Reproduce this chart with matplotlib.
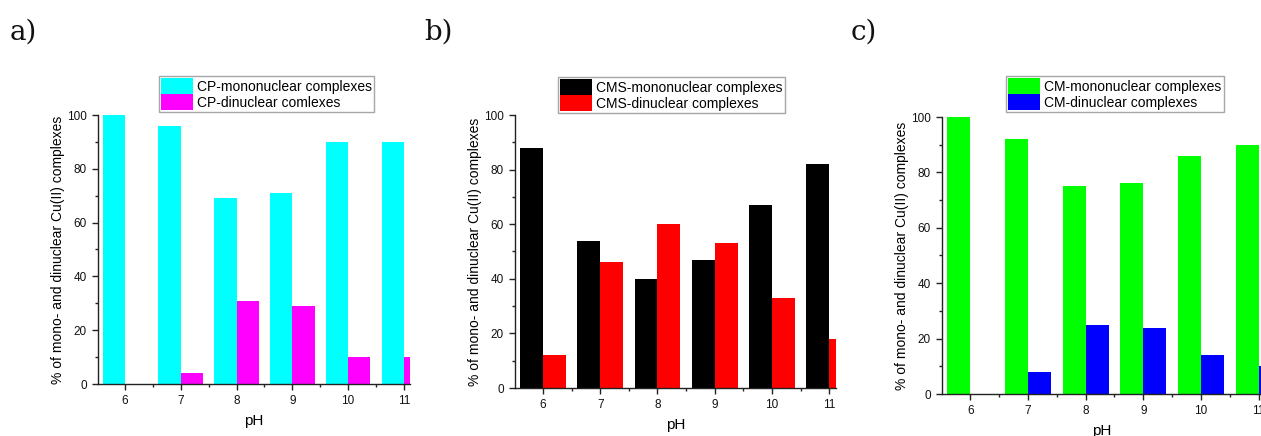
import matplotlib
matplotlib.use("Agg")
import matplotlib.pyplot as plt
from matplotlib.ticker import MultipleLocator

plt.rcParams['font.family'] = ['Liberation Sans', 'DejaVu Sans']

ph = [6, 7, 8, 9, 10, 11]

cp_mono = [100, 96, 69, 71, 90, 90]
cp_di = [0, 4, 31, 29, 10, 10]
cms_mono = [88, 54, 40, 47, 67, 82]
cms_di = [12, 46, 60, 53, 33, 18]
cm_mono = [100, 92, 75, 76, 86, 90]
cm_di = [0, 8, 25, 24, 14, 10]

labels_a = ["CP-mononuclear complexes", "CP-dinuclear comlexes"]
labels_b = ["CMS-mononuclear complexes", "CMS-dinuclear complexes"]
labels_c = ["CM-mononuclear complexes", "CM-dinuclear complexes"]

ylabel = "% of mono- and dinuclear Cu(II) complexes"
xlabel = "pH"

W, H = 1261, 436
fig = plt.figure(figsize=(W / 100, H / 100), dpi=100)

panels = [
    dict(l=98, r=410, b=384, t=115, xlim=(5.516, 11.11), mono=cp_mono, di=cp_di,
         colors=("#00FFFF", "#FF00FF"), labels=labels_a, leg=(159, 76), tag="a)", tagpos=(10, 40)),
    dict(l=515, r=836, b=388, t=115, xlim=(5.51, 11.12), mono=cms_mono, di=cms_di,
         colors=("#000000", "#FF0000"), labels=labels_b, leg=(558, 77), tag="b)", tagpos=(424, 40)),
    dict(l=942, r=1261, b=394, t=117, xlim=(5.51, 11.04), mono=cm_mono, di=cm_di,
         colors=("#00FF00", "#0000FF"), labels=labels_c, leg=(1006, 76), tag="c)", tagpos=(851, 40)),
]

for p in panels:
    ax = fig.add_axes([p['l'] / W, (H - p['b']) / H, (p['r'] - p['l']) / W, (p['b'] - p['t']) / H])
    xm = [x - 0.4 for x in ph]
    b1 = ax.bar(xm, p['mono'], width=0.4, align='edge', color=p['colors'][0], linewidth=0,
                label=p['labels'][0])
    b2 = ax.bar(ph, p['di'], width=0.4, align='edge', color=p['colors'][1], linewidth=0,
                label=p['labels'][1])
    ax.set_xlim(*p['xlim'])
    ax.set_ylim(0, 100)
    ax.set_xticks(ph)
    ax.set_yticks([0, 20, 40, 60, 80, 100])
    ax.xaxis.set_minor_locator(MultipleLocator(0.5))
    ax.yaxis.set_minor_locator(MultipleLocator(10))
    for s in ['top', 'right']:
        ax.spines[s].set_visible(False)
    for s in ['left', 'bottom']:
        ax.spines[s].set_color('#222222')
        ax.spines[s].set_linewidth(1.0)
    ax.tick_params(which='major', direction='out', length=4.5, width=1.0, colors='#222222',
                   labelsize=8.5, labelcolor='#111111', pad=3.5)
    ax.tick_params(which='minor', direction='out', length=2.5, width=1.0, colors='#222222')
    ax.set_ylabel(ylabel, fontsize=10, labelpad=1.5)
    ax.set_xlabel(xlabel, fontsize=11, labelpad=5)
    lx, ly = p['leg']
    leg = fig.legend(handles=[b1, b2], labels=p['labels'], loc='upper left',
                     bbox_to_anchor=(lx / W, (H - ly) / H), bbox_transform=fig.transFigure,
                     fontsize=10, frameon=True, fancybox=False, borderpad=0.15,
                     borderaxespad=0, handlelength=2.3, handleheight=1.4,
                     handletextpad=0.3, labelspacing=0.0)
    leg.get_frame().set_edgecolor('#909090')
    leg.get_frame().set_linewidth(1.0)
    tx, ty = p['tagpos']
    fig.text(tx / W, (H - ty) / H, p['tag'], fontsize=20, family='DejaVu Serif',
             ha='left', va='baseline', color='#111111')

fig.savefig("out.png", dpi=100)
